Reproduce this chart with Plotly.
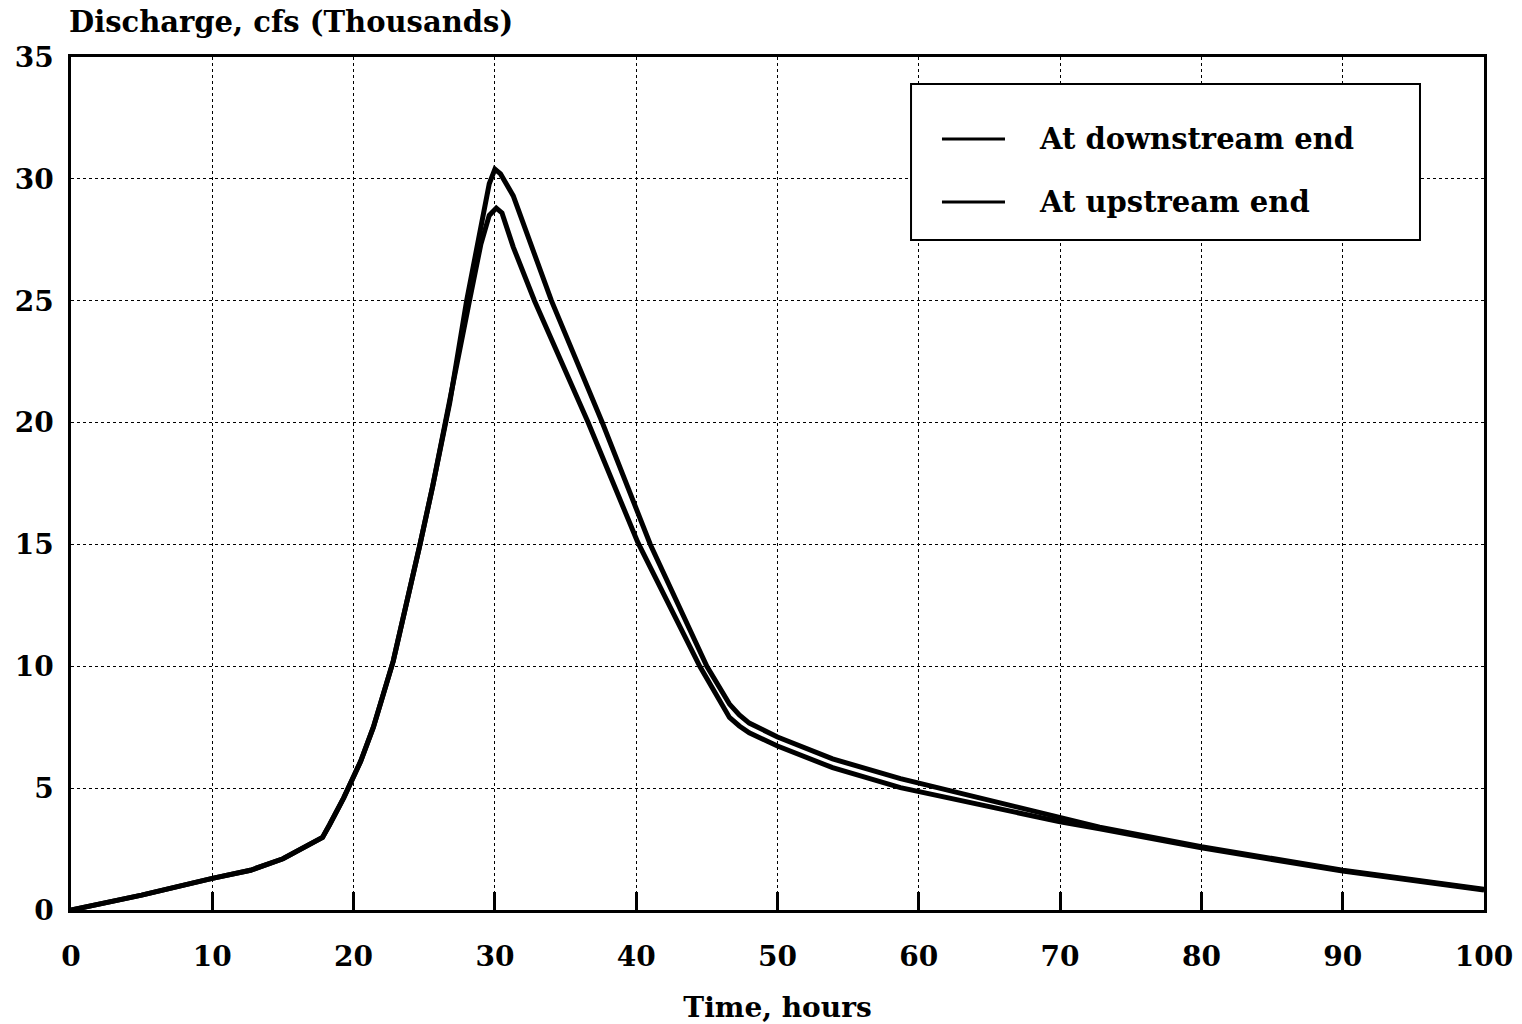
import plotly.graph_objects as go

# ---- data ----
time_down = [0, 5, 10, 12.7, 15, 17.8, 18.3, 19.3, 20.5, 21.4, 22.8, 23.8, 24.7, 25.6,
             26.3, 26.8, 28.0, 29.0, 29.6, 30.0, 30.4, 31.3, 34.0, 37.6, 41.0, 45.0,
             46.6, 47.3, 48.0, 50.0, 53.9, 58.7, 62.2, 66.0, 70.0, 72.8, 80.0, 90.0, 100.0]
flow_down = [0, 0.61, 1.3, 1.63, 2.1, 2.98, 3.5, 4.6, 6.1, 7.5, 10.2, 12.65, 15.0, 17.4,
             19.5, 20.8, 25.0, 28.0, 29.8, 30.4, 30.2, 29.3, 25.0, 20.0, 15.0, 10.0,
             8.45, 8.0, 7.67, 7.1, 6.2, 5.39, 4.9, 4.35, 3.8, 3.4, 2.6, 1.63, 0.85]

time_up = [0, 5, 10, 12.7, 15, 17.8, 18.3, 19.3, 20.5, 21.4, 22.8, 23.8, 24.7, 25.6,
           26.3, 26.8, 28.2, 29.0, 29.6, 30.1, 30.5, 31.3, 32.8, 36.6, 40.1, 44.5,
           46.6, 47.3, 48.0, 50.0, 53.9, 58.7, 62.2, 66.0, 70.0, 72.8, 80.0, 90.0, 100.0]
flow_up = [0, 0.61, 1.3, 1.63, 2.1, 2.98, 3.5, 4.6, 6.1, 7.5, 10.2, 12.65, 15.0, 17.4,
           19.5, 20.8, 25.0, 27.3, 28.5, 28.8, 28.6, 27.2, 25.0, 20.0, 15.1, 10.0,
           7.9, 7.55, 7.27, 6.73, 5.84, 5.02, 4.57, 4.1, 3.62, 3.33, 2.55, 1.6, 0.82]

series_names = ["At downstream end", "At upstream end"]
x_ticks = [0, 10, 20, 30, 40, 50, 60, 70, 80, 90, 100]
y_ticks = [0, 5, 10, 15, 20, 25, 30, 35]

FONT = dict(family="DejaVu Serif", size=28, color="black", weight="bold")

fig = go.Figure()
fig.add_trace(go.Scatter(x=time_down, y=flow_down, mode="lines", name=series_names[0],
                         line=dict(color="black", width=5), showlegend=False))
fig.add_trace(go.Scatter(x=time_up, y=flow_up, mode="lines", name=series_names[1],
                         line=dict(color="black", width=5), showlegend=False))

# legend box drawn in paper coordinates (box, sample lines, labels)
box = dict(x0=0.5945, x1=0.9547, y0=0.7855, y1=0.9684)
rows_y = [0.9039, 0.8300]
sample_x = (0.6164, 0.6610)
label_x = 0.6837

shapes = [dict(type="rect", xref="paper", yref="paper", **box,
               line=dict(color="black", width=2), fillcolor="white", layer="above")]
annotations = []
for name, ry in zip(series_names, rows_y):
    shapes.append(dict(type="line", xref="paper", yref="paper",
                       x0=sample_x[0], x1=sample_x[1], y0=ry, y1=ry,
                       line=dict(color="black", width=3), layer="above"))
    annotations.append(dict(text=name, xref="paper", yref="paper", x=label_x, y=ry,
                            xanchor="left", yanchor="middle", showarrow=False,
                            font=dict(family="DejaVu Serif", size=29, color="black",
                                      weight="bold")))

annotations.append(dict(
    text="Discharge, cfs (Thousands)", xref="paper", yref="paper",
    x=-0.003, y=1.0, xanchor="left", yanchor="bottom", yshift=16,
    showarrow=False, font=dict(family="DejaVu Serif", size=29, color="black", weight="bold"),
))

fig.update_layout(
    width=1522, height=1024,
    margin=dict(l=71, r=38, t=57, b=114, autoexpand=False),
    paper_bgcolor="white", plot_bgcolor="white",
    font=FONT,
    showlegend=False,
    xaxis=dict(
        range=[0, 100], tickvals=x_ticks, ticktext=[str(v) for v in x_ticks],
        showline=True, linecolor="black", linewidth=2.5, mirror=True,
        ticks="inside", ticklen=18, tickwidth=2.5, tickcolor="black",
        showgrid=True, gridcolor="black", gridwidth=1, griddash="dot",
        zeroline=False, ticklabelstandoff=20, automargin=False,
        title=dict(text="Time, hours", font=FONT, standoff=30),
    ),
    yaxis=dict(
        range=[0, 35], tickvals=y_ticks, ticktext=[str(v) for v in y_ticks],
        showline=True, linecolor="black", linewidth=2.5, mirror=True,
        ticks="", showgrid=True, gridcolor="black", gridwidth=1, griddash="dot",
        zeroline=False, ticklabelstandoff=9, automargin=False,
    ),
    shapes=shapes,
    annotations=annotations,
)

fig.write_html("out.html", config={"displayModeBar": False},
               post_script="document.body.style.margin='0';document.body.style.overflow='hidden';")
